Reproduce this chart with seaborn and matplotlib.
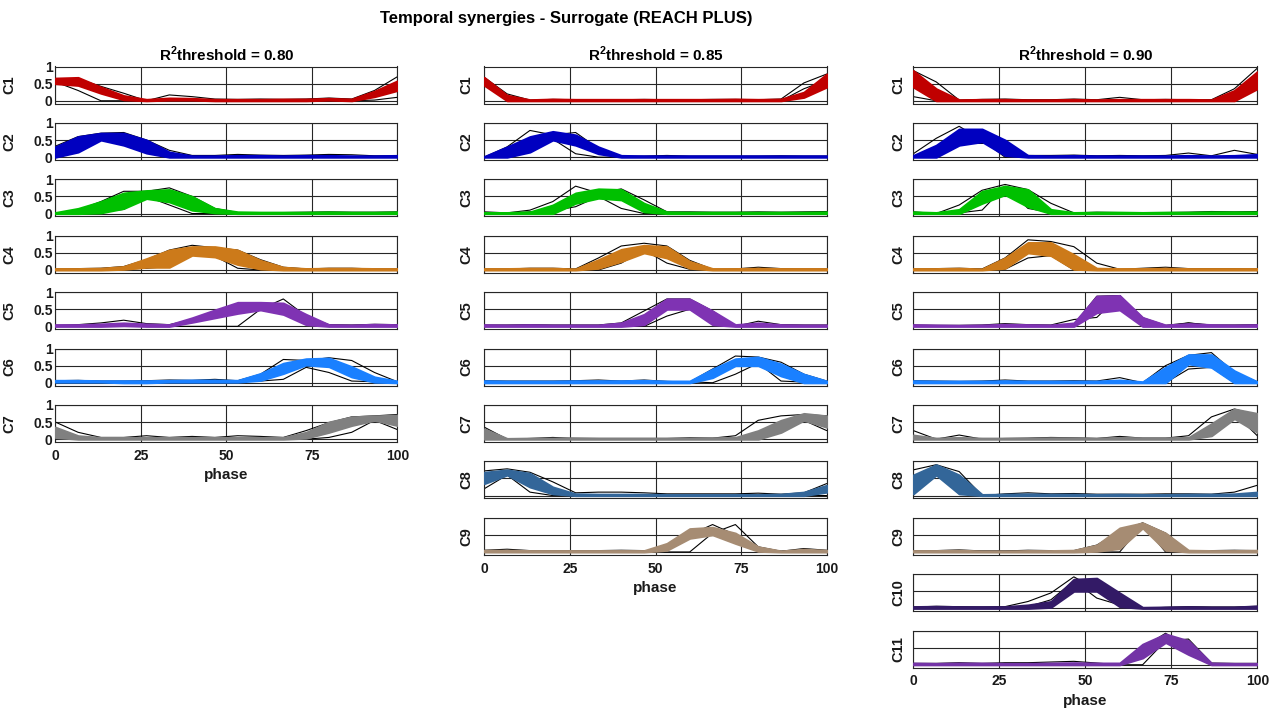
import numpy as np
import matplotlib
matplotlib.use("Agg")
import matplotlib.pyplot as plt
import seaborn as sns

# ---------------- data ----------------
PHASE = list(np.linspace(0, 100, 16))
THRESHOLDS = ["0.80", "0.85", "0.90"]
XTICKS = [0, 25, 50, 75, 100]
YTICKS = [0, 0.5, 1]
YTICKLABELS = ["0", "0.5", "1"]

COLORS = ["#C00000", "#0000C0", "#00C000", "#CC7A1A", "#7F33B3", "#1A80FF",
          "#808080", "#336699", "#A68C73", "#331A66", "#7333A6"]

# threshold 0.80 : 7 synergies (band low / band high / two original curves)
LO_80 = [
    [0.50,0.45,0.22,0.03,0.0,0.02,0.02,0.0,0.0,0.0,0.0,0.0,0.02,0.0,0.12,0.30],
    [0.0,0.15,0.50,0.35,0.12,0.0,0,0,0,0,0,0,0,0,0,0],
    [0.0,0.0,0.02,0.15,0.44,0.34,0.10,0.02,0,0,0,0,0,0,0,0],
    [0,0,0,0.02,0.08,0.08,0.43,0.38,0.16,0.03,0,0,0,0,0,0],
    [0,0,0,0.02,0.0,0.0,0.12,0.25,0.38,0.48,0.35,0.05,0,0,0,0],
    [0.02,0.02,0.02,0.0,0.0,0.02,0.02,0.02,0.02,0.07,0.27,0.52,0.47,0.17,0.02,0.0],
    [0.05,0.0,0,0,0,0,0,0,0,0,0,0.03,0.20,0.40,0.55,0.40],
]
HI_80 = [
    [0.66,0.68,0.40,0.15,0.04,0.08,0.07,0.04,0.04,0.04,0.05,0.05,0.07,0.05,0.28,0.58],
    [0.30,0.60,0.70,0.70,0.50,0.15,0.04,0.04,0.05,0.05,0.04,0.05,0.05,0.04,0.04,0.05],
    [0.03,0.15,0.35,0.60,0.67,0.70,0.50,0.15,0.05,0.04,0.04,0.04,0.05,0.04,0.04,0.05],
    [0.04,0.04,0.05,0.10,0.33,0.58,0.68,0.68,0.58,0.28,0.08,0.04,0.05,0.05,0.04,0.04],
    [0.05,0.05,0.07,0.10,0.07,0.05,0.25,0.48,0.70,0.70,0.68,0.35,0.05,0.04,0.06,0.05],
    [0.07,0.07,0.06,0.06,0.06,0.07,0.08,0.08,0.07,0.27,0.57,0.70,0.72,0.47,0.17,0.05],
    [0.35,0.10,0.05,0.05,0.05,0.05,0.05,0.05,0.05,0.05,0.05,0.20,0.50,0.65,0.68,0.70],
]
KA_80 = [
    [0.62,0.64,0.42,0.22,0.0,0.17,0.12,0.05,0.04,0.05,0.04,0.05,0.08,0.05,0.30,0.70],
    [0.32,0.60,0.70,0.72,0.50,0.20,0.05,0.05,0.08,0.06,0.05,0.06,0.08,0.07,0.04,0.04],
    [0.0,0.10,0.35,0.65,0.65,0.75,0.50,0.15,0.03,0.03,0.03,0.04,0.05,0.04,0.04,0.05],
    [0.03,0.04,0.05,0.10,0.30,0.58,0.72,0.65,0.58,0.30,0.08,0.03,0.05,0.05,0.03,0.03],
    [0.03,0.05,0.10,0.18,0.08,0.05,0.20,0.45,0.65,0.68,0.65,0.30,0.05,0.04,0.06,0.05],
    [0.06,0.07,0.05,0.05,0.06,0.08,0.07,0.10,0.06,0.25,0.68,0.65,0.73,0.65,0.30,0.03],
    [0.50,0.20,0.05,0.05,0.10,0.05,0.08,0.05,0.10,0.08,0.05,0.25,0.48,0.65,0.68,0.72],
]
KB_80 = [
    [0.55,0.30,0.0,0.0,0.0,0.02,0.02,0.0,0.0,0.0,0.0,0.0,0.0,0.0,0.02,0.10],
    [0.0,0.15,0.55,0.40,0.12,0.02,0.0,0,0,0,0,0,0,0,0,0],
    [0.0,0.02,0.05,0.12,0.50,0.25,0.0,0,0,0,0,0,0,0,0,0],
    [0,0,0,0.02,0.05,0.10,0.45,0.40,0.05,0.0,0,0,0,0,0,0],
    [0,0,0,0,0,0,0,0,0.0,0.50,0.80,0.30,0.03,0,0,0],
    [0.03,0.03,0.03,0.03,0.03,0.03,0.03,0.03,0.03,0.05,0.10,0.45,0.30,0.05,0.03,0.03],
    [0.30,0.05,0.0,0,0,0,0,0,0,0,0,0.0,0.05,0.20,0.55,0.28],
]

# threshold 0.85 : 9 synergies
LO_85 = [
    [0.45,0.0,0,0,0,0,0,0,0,0,0,0,0,0.0,0.10,0.40],
    [0,0,0.15,0.50,0.35,0.10,0,0,0,0,0,0,0,0,0,0],
    [0,0,0,0.0,0.30,0.45,0.40,0.05,0,0,0,0,0,0,0,0],
    [0,0,0,0,0,0.05,0.25,0.50,0.35,0.05,0,0,0,0,0,0],
    [0,0,0,0,0,0,0.0,0.05,0.50,0.50,0.05,0.0,0.0,0,0,0],
    [0,0,0,0,0,0,0,0,0,0,0.15,0.50,0.50,0.20,0.0,0.0],
    [0.0,0,0,0,0,0,0,0,0,0,0,0,0.0,0.20,0.55,0.35],
    [0.35,0.60,0.25,0.05,0,0,0,0,0,0,0,0,0,0,0.0,0.10],
    [0,0,0,0,0,0,0,0,0.05,0.40,0.50,0.25,0.02,0,0,0],
]
HI_85 = [
    [0.68,0.16,0.03,0.05,0.04,0.04,0.04,0.04,0.04,0.04,0.04,0.05,0.04,0.05,0.25,0.78],
    [0.02,0.30,0.60,0.75,0.65,0.30,0.05,0.04,0.04,0.04,0.04,0.04,0.04,0.04,0.04,0.04],
    [0.03,0.03,0.05,0.25,0.60,0.72,0.70,0.30,0.05,0.04,0.04,0.04,0.04,0.04,0.04,0.05],
    [0.04,0.04,0.05,0.05,0.03,0.30,0.60,0.72,0.68,0.25,0.04,0.04,0.05,0.04,0.04,0.04],
    [0.05,0.04,0.05,0.04,0.04,0.04,0.10,0.35,0.80,0.80,0.45,0.05,0.10,0.05,0.04,0.04],
    [0.06,0.05,0.05,0.05,0.06,0.06,0.06,0.07,0.05,0.05,0.40,0.70,0.75,0.55,0.25,0.05],
    [0.30,0.02,0.03,0.03,0.04,0.03,0.03,0.03,0.03,0.03,0.04,0.05,0.25,0.55,0.75,0.68],
    [0.68,0.75,0.65,0.25,0.05,0.04,0.04,0.04,0.03,0.03,0.03,0.03,0.03,0.04,0.10,0.30],
    [0.05,0.05,0.04,0.04,0.04,0.04,0.04,0.04,0.25,0.68,0.72,0.55,0.15,0.03,0.08,0.05],
]
KA_85 = [
    [0.68,0.20,0.02,0.04,0.03,0.03,0.03,0.04,0.03,0.03,0.04,0.04,0.03,0.05,0.52,0.78],
    [0.0,0.30,0.78,0.65,0.72,0.25,0.02,0.03,0.05,0.03,0.03,0.03,0.03,0.04,0.03,0.03],
    [0.05,0.02,0.10,0.35,0.80,0.60,0.72,0.40,0.05,0.05,0.04,0.04,0.05,0.04,0.05,0.06],
    [0.03,0.03,0.05,0.05,0.03,0.35,0.70,0.78,0.70,0.28,0.02,0.03,0.08,0.04,0.03,0.03],
    [0.04,0.04,0.05,0.04,0.04,0.04,0.10,0.45,0.80,0.80,0.45,0.0,0.15,0.05,0.04,0.04],
    [0.06,0.05,0.05,0.05,0.06,0.08,0.05,0.08,0.04,0.02,0.40,0.78,0.75,0.60,0.25,0.05],
    [0.35,0.0,0.02,0.05,0.02,0.02,0.02,0.02,0.02,0.04,0.03,0.10,0.55,0.68,0.72,0.68],
    [0.72,0.78,0.68,0.40,0.08,0.10,0.10,0.08,0.05,0.05,0.05,0.05,0.07,0.04,0.08,0.35],
    [0.05,0.08,0.04,0.04,0.04,0.04,0.05,0.04,0.00,0.00,0.55,0.80,0.15,0.02,0.10,0.05],
]
KB_85 = [
    [0.60,0.08,0,0,0,0,0,0,0,0,0,0,0,0.0,0.35,0.60],
    [0.0,0.20,0.17,0.53,0.10,0.0,0,0,0,0,0,0,0,0,0,0],
    [0.0,0,0.05,0.08,0.20,0.50,0.15,0.0,0,0,0,0,0,0,0,0],
    [0,0,0,0,0,0.0,0.20,0.58,0.20,0.02,0,0,0,0,0,0],
    [0,0,0,0,0,0,0.0,0.0,0.30,0.50,0.10,0.0,0,0,0,0],
    [0.03,0.03,0.03,0.03,0.03,0.03,0.03,0.03,0.03,0.03,0.0,0.25,0.57,0.05,0.02,0.02],
    [0.30,0,0,0,0,0,0,0,0,0,0,0.0,0.0,0.35,0.55,0.25],
    [0.20,0.60,0.10,0.0,0,0,0,0,0,0,0,0,0,0,0,0],
    [0.02,0.03,0.02,0.02,0.02,0.02,0.02,0.02,0.05,0.50,0.80,0.50,0.10,0.02,0.05,0.03],
]

# threshold 0.90 : 11 synergies
LO_90 = [
    [0.40,0.0,0,0,0,0,0,0,0,0,0,0,0,0,0.0,0.35],
    [0,0,0.35,0.45,0.05,0,0,0,0,0,0,0,0,0,0,0],
    [0,0,0,0.30,0.55,0.20,0.0,0,0,0,0,0,0,0,0,0],
    [0,0,0,0,0.05,0.50,0.42,0.02,0,0,0,0,0,0,0,0],
    [0,0,0,0,0,0,0,0.0,0.40,0.48,0.0,0,0,0,0,0],
    [0,0,0,0,0,0,0,0,0,0,0,0.0,0.55,0.45,0.0,0.0],
    [0.0,0,0,0,0,0,0,0,0,0,0,0,0.0,0.10,0.60,0.20],
    [0.05,0.60,0.05,0.0,0,0,0,0,0,0,0,0,0,0,0,0.0],
    [0,0,0,0,0,0,0,0.0,0.02,0.10,0.70,0.05,0.0,0,0,0],
    [0,0,0,0,0,0,0.03,0.50,0.50,0.05,0,0,0,0,0,0],
    [0,0,0,0,0,0,0,0,0,0.0,0.20,0.65,0.30,0.0,0,0],
]
HI_90 = [
    [0.88,0.35,0.03,0.04,0.04,0.03,0.03,0.04,0.03,0.04,0.04,0.04,0.04,0.03,0.30,0.85],
    [0.05,0.35,0.82,0.82,0.50,0.05,0.04,0.05,0.04,0.04,0.04,0.04,0.05,0.04,0.05,0.08],
    [0.05,0.03,0.12,0.65,0.80,0.70,0.12,0.03,0.04,0.04,0.03,0.04,0.04,0.05,0.05,0.05],
    [0.04,0.04,0.05,0.03,0.35,0.80,0.80,0.45,0.05,0.04,0.04,0.05,0.04,0.04,0.04,0.04],
    [0.05,0.04,0.03,0.04,0.06,0.05,0.04,0.10,0.88,0.90,0.26,0.04,0.08,0.05,0.04,0.05],
    [0.06,0.05,0.05,0.05,0.06,0.05,0.05,0.05,0.05,0.08,0.03,0.45,0.82,0.82,0.35,0.03],
    [0.12,0.03,0.05,0.03,0.03,0.03,0.04,0.04,0.03,0.05,0.04,0.04,0.05,0.45,0.88,0.75],
    [0.60,0.90,0.60,0.03,0.04,0.05,0.04,0.04,0.03,0.04,0.03,0.03,0.04,0.04,0.05,0.10],
    [0.04,0.04,0.05,0.03,0.03,0.04,0.04,0.05,0.20,0.70,0.85,0.55,0.05,0.04,0.04,0.05],
    [0.05,0.06,0.05,0.05,0.05,0.10,0.20,0.85,0.88,0.45,0.03,0.04,0.05,0.04,0.04,0.07],
    [0.05,0.04,0.05,0.05,0.04,0.04,0.05,0.06,0.05,0.05,0.60,0.90,0.70,0.05,0.04,0.04],
]
KA_90 = [
    [0.88,0.55,0.02,0.04,0.05,0.03,0.03,0.05,0.03,0.10,0.03,0.04,0.03,0.03,0.35,0.95],
    [0.10,0.55,0.90,0.50,0.0,0.05,0.05,0.06,0.04,0.05,0.04,0.05,0.12,0.04,0.20,0.08],
    [0.05,0.0,0.25,0.68,0.85,0.70,0.30,0.02,0.04,0.03,0.03,0.03,0.04,0.06,0.05,0.06],
    [0.03,0.04,0.05,0.03,0.35,0.88,0.83,0.68,0.20,0.02,0.05,0.08,0.04,0.04,0.04,0.03],
    [0.04,0.03,0.03,0.04,0.08,0.05,0.04,0.20,0.26,0.90,0.25,0.03,0.10,0.04,0.04,0.05],
    [0.06,0.05,0.04,0.05,0.08,0.05,0.05,0.06,0.05,0.15,0.0,0.50,0.80,0.88,0.30,0.03],
    [0.25,0.0,0.12,0.0,0.02,0.03,0.05,0.04,0.02,0.08,0.03,0.03,0.10,0.65,0.88,0.70],
    [0.75,0.90,0.70,0.0,0.05,0.08,0.05,0.06,0.04,0.04,0.04,0.05,0.05,0.04,0.10,0.30],
    [0.04,0.04,0.06,0.03,0.03,0.05,0.04,0.04,0.20,0.60,0.85,0.55,0.02,0.04,0.05,0.04],
    [0.04,0.06,0.05,0.04,0.05,0.20,0.45,0.92,0.55,0.35,0.0,0.03,0.05,0.04,0.04,0.06],
    [0.04,0.04,0.06,0.04,0.06,0.06,0.08,0.10,0.05,0.0,0.0,0.70,0.75,0.05,0.04,0.04],
]
KB_90 = [
    [0.12,0.0,0,0,0,0,0,0,0,0,0,0,0,0,0.0,0.40],
    [0.02,0.20,0.40,0.40,0.45,0.02,0,0,0,0,0,0,0,0,0,0],
    [0.02,0,0.02,0.10,0.80,0.15,0.03,0,0,0,0,0,0,0,0,0],
    [0,0,0,0,0.02,0.35,0.42,0.0,0,0,0,0,0,0,0,0],
    [0.02,0.02,0.02,0.02,0.02,0.02,0.02,0.05,0.88,0.90,0.25,0.0,0.10,0.02,0.02,0.02],
    [0.02,0.02,0.02,0.02,0.02,0.02,0.02,0.02,0.02,0.02,0.0,0.0,0.40,0.45,0.0,0.02],
    [0.05,0,0,0,0,0,0,0,0,0,0,0,0.0,0.10,0.75,0.10],
    [0.02,0.65,0.05,0.0,0,0,0,0,0,0,0,0,0,0,0,0],
    [0.02,0.02,0.02,0.02,0.02,0.02,0.02,0.02,0.0,0.0,0.80,0.0,0.0,0.02,0.02,0.02],
    [0.02,0.02,0.02,0.02,0.02,0.05,0.25,0.80,0.30,0.10,0.0,0.02,0.02,0.02,0.02,0.02],
    [0.02,0.02,0.02,0.02,0.02,0.02,0.02,0.02,0.02,0.0,0.50,0.92,0.50,0.0,0.02,0.02],
]

COLUMNS = [(LO_80, HI_80, KA_80, KB_80), (LO_85, HI_85, KA_85, KB_85),
           (LO_90, HI_90, KA_90, KB_90)]

# ---------------- style ----------------
sns.set_theme(style="white")
plt.rcParams["font.family"] = ["Liberation Sans", "DejaVu Sans"]
plt.rcParams["font.weight"] = "bold"
plt.rcParams["mathtext.fontset"] = "custom"
plt.rcParams["mathtext.rm"] = "Liberation Sans:bold"
plt.rcParams["mathtext.bf"] = "Liberation Sans:bold"
TXT = "#1a1a1a"

W, H = 1277, 709
fig = plt.figure(figsize=(W / 100, H / 100), dpi=100)

col_left = [55.3, 484.3, 913.3]
col_w = [342.0, 342.4, 344.0]
label_x = [-0.115, -0.032, -0.022]
ax_h = 37.0
row_top0, row_step = 66.5, 56.4

for c, (LO, HI, KA, KB) in enumerate(COLUMNS):
    n = len(LO)
    for i in range(n):
        top = row_top0 + row_step * i
        ax = fig.add_axes([col_left[c] / W, 1 - (top + ax_h) / H, col_w[c] / W, ax_h / H])
        ax.set_axisbelow(True)
        sns.lineplot(x=PHASE, y=KA[i], color="black", lw=0.8, ax=ax, zorder=2)
        sns.lineplot(x=PHASE, y=KB[i], color="black", lw=0.8, ax=ax, zorder=2)
        ax.fill_between(PHASE, LO[i], HI[i], color=COLORS[i], lw=1.5,
                        edgecolor=COLORS[i], zorder=3)
        ax.set_xlim(0, 100)
        ax.set_ylim(-0.08, 1.0)
        ax.set_xticks(XTICKS)
        ax.set_yticks(YTICKS)
        ax.grid(True, color="#262626", lw=0.8)
        ax.tick_params(direction="in", length=2.5, width=0.6, labelsize=10, pad=2,
                       colors=TXT)
        ax.tick_params(axis="x", pad=5)
        if c == 0:
            ax.set_yticklabels(YTICKLABELS, fontweight="bold")
        else:
            ax.set_yticklabels([])
        if i == n - 1:
            ax.set_xticklabels([str(t) for t in XTICKS], fontweight="bold", fontsize=10)
            ax.set_xlabel("phase", fontsize=11, fontweight="bold", color=TXT,
                          labelpad=4)
        else:
            ax.set_xticklabels([])
        ax.set_ylabel(f"C{i + 1}", fontsize=10.5, fontweight="bold", color=TXT)
        ax.yaxis.set_label_coords(label_x[c], 0.5)
        for s in ax.spines.values():
            s.set_color("#262626")
            s.set_linewidth(0.8)
        if i == 0:
            ax.set_title(r"R$^2$threshold = " + THRESHOLDS[c], fontsize=11,
                         fontweight="bold", pad=4, color="black")

fig.text(566 / W, 1 - 19 / H, "Temporal synergies - Surrogate (REACH PLUS)",
         ha="center", va="center", fontsize=12, fontweight="bold", color="black")

fig.savefig("out.png", dpi=100)
